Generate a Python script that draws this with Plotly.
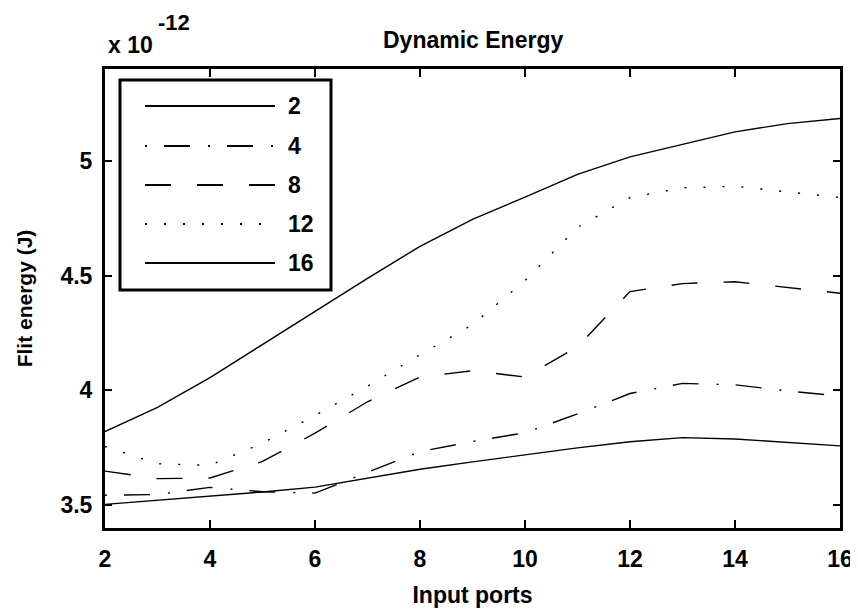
import plotly.graph_objects as go

# ---- data (values in units of 1e-12 J) ----
input_ports = [2, 3, 4, 5, 6, 7, 8, 9, 10, 11, 12, 13, 14, 15, 16]
series_names = ["2", "4", "8", "12", "16"]
energy_2 = [3.503, 3.520, 3.539, 3.557, 3.578, 3.618, 3.656, 3.688, 3.719, 3.749, 3.776, 3.794, 3.788, 3.773, 3.758]
energy_4 = [3.543, 3.546, 3.577, 3.558, 3.552, 3.644, 3.733, 3.777, 3.815, 3.897, 3.986, 4.030, 4.024, 3.997, 3.975]
energy_8 = [3.648, 3.615, 3.618, 3.690, 3.813, 3.950, 4.058, 4.085, 4.058, 4.190, 4.430, 4.465, 4.473, 4.448, 4.423]
energy_12 = [3.755, 3.680, 3.673, 3.770, 3.890, 4.018, 4.155, 4.286, 4.478, 4.710, 4.840, 4.882, 4.889, 4.866, 4.840]
energy_16 = [3.820, 3.926, 4.055, 4.200, 4.343, 4.488, 4.627, 4.745, 4.842, 4.941, 5.017, 5.072, 5.126, 5.162, 5.184]
y_tickvals = [3.5, 4, 4.5, 5]
y_ticktext = ["3.5", "4", "4.5", "5"]
x_tickvals = [2, 4, 6, 8, 10, 12, 14, 16]

series = [energy_2, energy_4, energy_8, energy_12, energy_16]
dashes = ["solid", "2px,17px,26px,18px", "26px,26px", "2px,17px", "solid"]

# the page body adds an 8px offset; the figure is sized to fill the rest of the window
PAGE_OFF = 8
W, H = 858 - PAGE_OFF, 612 - PAGE_OFF
L, R, T, B = 105 - PAGE_OFF, 18, 69 - PAGE_OFF, 84
FONT = "Liberation Sans, Arial, sans-serif"

fig = go.Figure()
for name, vals, dash in zip(series_names, series, dashes):
    fig.add_trace(go.Scatter(x=input_ports, y=vals, mode="lines", name=name,
                             line=dict(color="black", width=1.4, dash=dash),
                             showlegend=False))

pw, ph = W - L - R, H - T - B
PLOT_X0, PLOT_Y1 = 105, 528  # plot area left / bottom in page pixels
def px(xp):
    return (xp - PLOT_X0) / pw
def py(yp):
    return (PLOT_Y1 - yp) / ph

shapes = []
annotations = []
# custom legend box
shapes.append(dict(type="rect", xref="paper", yref="paper",
                   x0=px(120), x1=px(331), y0=py(290), y1=py(80),
                   line=dict(color="black", width=3), fillcolor="white", layer="above"))
rows = [106, 146, 185, 224, 263]
for name, dash, ry in zip(series_names, dashes, rows):
    shapes.append(dict(type="line", xref="paper", yref="paper",
                       x0=px(145), x1=px(275), y0=py(ry), y1=py(ry),
                       line=dict(color="black", width=2, dash=dash), layer="above"))
    annotations.append(dict(xref="paper", yref="paper", x=px(286), y=py(ry),
                            text=name, showarrow=False, xanchor="left", yanchor="middle",
                            font=dict(size=23, family=FONT, color="black", weight="bold")))

annotations.append(dict(xref="paper", yref="paper", x=px(472.5), y=py(40), text="Dynamic Energy",
                        showarrow=False, xanchor="center", yanchor="middle",
                        font=dict(size=23, family=FONT, color="black", weight="bold")))
annotations.append(dict(xref="paper", yref="paper", x=px(106), y=py(45), text="x 10",
                        showarrow=False, xanchor="left", yanchor="middle",
                        font=dict(size=23, family=FONT, color="black", weight="bold")))
annotations.append(dict(xref="paper", yref="paper", x=px(156), y=py(22), text="-12",
                        showarrow=False, xanchor="left", yanchor="middle",
                        font=dict(size=22, family=FONT, color="black", weight="bold")))

axis_common = dict(showgrid=False, zeroline=False, showline=True, linecolor="black",
                   linewidth=3, mirror="ticks", ticks="inside", tickcolor="black",
                   tickwidth=2, tickfont=dict(size=23, family=FONT, color="black", weight="bold"))

fig.update_layout(
    width=W, height=H, margin=dict(l=L, r=R, t=T, b=B, autoexpand=False),
    paper_bgcolor="white", plot_bgcolor="white",
    shapes=shapes, annotations=annotations,
    xaxis=dict(range=[2, 16], tickvals=x_tickvals, ticklen=8, ticklabelstandoff=8,
               title=dict(text="Input ports", standoff=17,
                          font=dict(size=23, family=FONT, color="black", weight="bold")),
               **axis_common),
    yaxis=dict(range=[3.4, 5.4], tickvals=y_tickvals, ticktext=y_ticktext, ticklen=7,
               ticklabelstandoff=5,
               title=dict(text="Flit energy (J)", standoff=23,
                          font=dict(size=21, family=FONT, color="black", weight="bold")),
               **axis_common),
)

fig.write_html("out.html")
